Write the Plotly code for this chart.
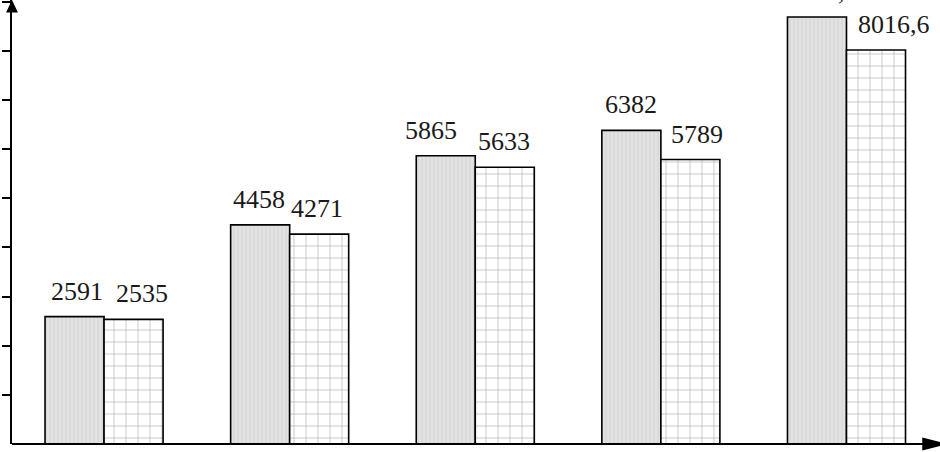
import plotly.graph_objects as go

# values (no category labels are shown on the axis)
series_a = [2591, 4458, 5865, 6382, 8689.4]
series_b = [2535, 4271, 5633, 5789, 8016.6]
label_nudge_a = [2, -1, -15, 0, 5]
label_nudge_b = [8, -2, -1, 7, 18]
yticks = [1000, 2000, 3000, 4000, 5000, 6000, 7000, 8000, 9000]


def fmt(v):
    # decimal comma, like in the source
    return str(int(v)) if float(v).is_integer() else ("%.1f" % v).replace(".", ",")


xs = list(range(len(series_a)))
bar_w = 0.318

fig = go.Figure()
fig.add_trace(go.Bar(
    x=xs, y=series_a, width=bar_w, offset=-bar_w,
    marker=dict(color="#dedede", line=dict(color="black", width=1.6),
                pattern=dict(shape="|", size=4, solidity=0.25, fgcolor="#c4c4c4",
                             bgcolor="#e2e2e2")),
    showlegend=False, hoverinfo="skip",
))
fig.add_trace(go.Bar(
    x=xs, y=series_b, width=bar_w, offset=0,
    marker=dict(color="white", line=dict(color="black", width=1.6),
                pattern=dict(shape="+", size=12, solidity=0.1, fgcolor="#555555",
                             bgcolor="white")),
    showlegend=False, hoverinfo="skip",
))

font = dict(family="Liberation Serif", size=26, color="#1a1a1a")
for i, (a, b) in enumerate(zip(series_a, series_b)):
    fig.add_annotation(x=i - bar_w / 2, y=a, text=fmt(a), showarrow=False,
                       yanchor="bottom", yshift=9, xshift=label_nudge_a[i], font=font)
    fig.add_annotation(x=i + bar_w / 2, y=b, text=fmt(b), showarrow=False,
                       yanchor="bottom", yshift=9, xshift=label_nudge_b[i], font=font)

# axis arrows
fig.add_shape(type="line", xref="paper", yref="paper", x0=0, x1=1.012, y0=0, y1=0,
              line=dict(color="black", width=2))
fig.add_shape(type="path", xref="paper", yref="paper",
              path="M 0.997 -0.0145 L 1.0255 0 L 0.997 0.0145 Z",
              fillcolor="black", line=dict(color="black", width=0))
fig.add_shape(type="path", xref="paper", yref="paper",
              path="M -0.0065 0.972 L 0 1.0 L 0.0065 0.972 Z",
              fillcolor="black", line=dict(color="black", width=0))

fig.update_layout(
    width=940, height=452,
    margin=dict(l=12, r=15, t=0, b=8),
    paper_bgcolor="white", plot_bgcolor="white",
    barmode="overlay",
    xaxis=dict(range=[-0.496, 4.423], showgrid=False, zeroline=False,
               showticklabels=False, ticks="", showline=False, fixedrange=True),
    yaxis=dict(range=[0, 9035], showgrid=False, zeroline=False,
               showticklabels=False, tickvals=yticks, ticks="outside", ticklen=8,
               tickwidth=2, tickcolor="black",
               showline=True, linecolor="black", linewidth=2, fixedrange=True),
)

fig.write_html("out.html", config={"displayModeBar": False},
               post_script="document.body.style.margin='0px';")
